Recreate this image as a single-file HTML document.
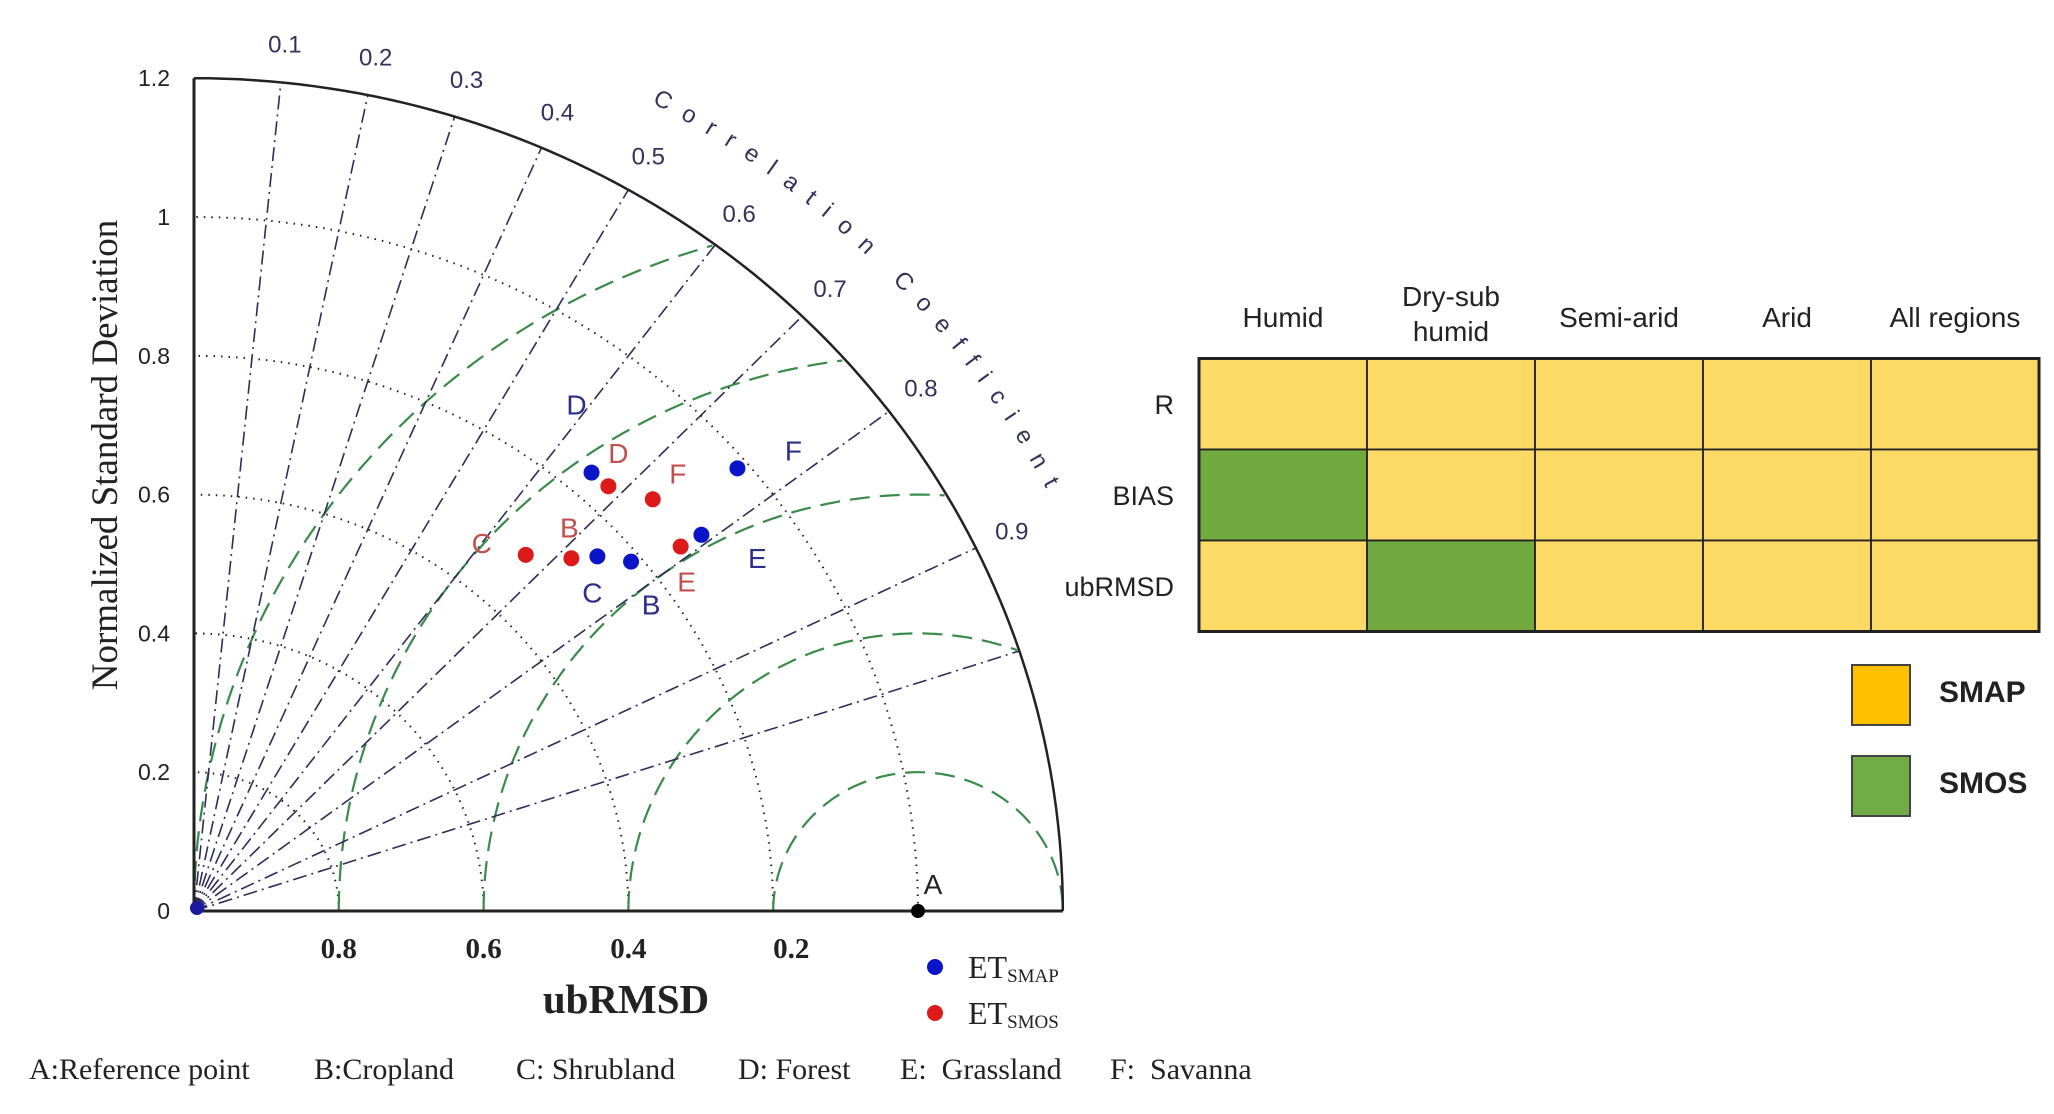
<!DOCTYPE html>
<html><head><meta charset="utf-8"><style>
html,body{margin:0;padding:0;background:#fff;}
svg{display:block;}
</style></head><body>
<svg id="fig" width="2054" height="1114" viewBox="0 0 2054 1114" xmlns="http://www.w3.org/2000/svg">
<g id="taylor"></g>
<g id="tbl"></g>
</svg>
<script>
// ---------- Taylor diagram data ----------
const sites = ["B","C","D","E","F"];
const smapStd = [0.786, 0.756, 0.837, 0.886, 0.985];
const smapR   = [0.768, 0.737, 0.656, 0.791, 0.762];
const smosStd = [0.728, 0.688, 0.838, 0.853, 0.868];
const smosR   = [0.716, 0.666, 0.683, 0.788, 0.730];
const yTicks = [0, 0.2, 0.4, 0.6, 0.8, 1, 1.2];
const corrTicks = [0.1,0.2,0.3,0.4,0.5,0.6,0.7,0.8,0.9];
const corrExtra = [0.95];
const stdArcs = [0.2,0.4,0.6,0.8,1.0];
const rmsArcs = [0.2,0.4,0.6,0.8,1.0];
const rmsLabels = ["0.8","0.6","0.4","0.2"];
const rmsLabelVals = [0.8,0.6,0.4,0.2];
// ---------- Table data ----------
const cols = ["Humid","Dry-sub|humid","Semi-arid","Arid","All regions"];
const rows = ["R","BIAS","ubRMSD"];
const best = [["SMAP","SMAP","SMAP","SMAP","SMAP"],["SMOS","SMAP","SMAP","SMAP","SMAP"],["SMAP","SMOS","SMAP","SMAP","SMAP"]];

const NS="http://www.w3.org/2000/svg";
const OX=194, OY=911, SX=724, SY=694, RMAX=1.2;
const X=x=>OX+SX*x, Y=y=>OY-SY*y;
function mk(tag, attrs, parent){const e=document.createElementNS(NS,tag);for(const k in attrs)e.setAttribute(k,attrs[k]);parent.appendChild(e);return e;}
const T=document.getElementById('taylor');
const serif='"Liberation Serif", serif', sans='"Liberation Sans", sans-serif';

stdArcs.forEach(s=>{
  let d='';for(let i=0;i<=90;i++){const a=i*Math.PI/180;d+=(i?'L':'M')+X(s*Math.cos(a)).toFixed(1)+','+Y(s*Math.sin(a)).toFixed(1);}
  const p=mk('path',{d:d,fill:'none',stroke:'#222','stroke-width':2,'stroke-dasharray':'1.5 6'},T);
  
  
});
rmsArcs.forEach(k=>{
  let d='',started=false;
  for(let i=0;i<=360;i++){const a=i*Math.PI/360;const x=1-k*Math.cos(a),y=k*Math.sin(a);
    if(Math.hypot(x,y)<=RMAX && x>=0){d+=(started?'L':'M')+X(x).toFixed(1)+','+Y(y).toFixed(1);started=true;} }
  const p=mk('path',{d:d,fill:'none',stroke:'#3a8a4a','stroke-width':2.2,'stroke-dasharray':'20 10'},T);
  
  
});
corrTicks.concat(corrExtra).forEach(r=>{
  const a=Math.acos(r);
  const l=mk('line',{x1:X(0),y1:Y(0),x2:X(RMAX*Math.cos(a)),y2:Y(RMAX*Math.sin(a)),stroke:'#2d2d5a','stroke-width':1.6,'stroke-dasharray':'14 5 2 5'},T);
  
  
});
corrTicks.forEach(r=>{
  const a=Math.acos(r),rr=1.255;
  const t=mk('text',{x:X(rr*Math.cos(a)),y:Y(rr*Math.sin(a))+8,'font-family':sans,'font-size':24,fill:'#33335a','text-anchor':'middle'},T);
  t.textContent=String(r);
  
  
});
{let d='';for(let i=0;i<=90;i++){const a=i*Math.PI/180;d+=(i?'L':'M')+X(RMAX*Math.cos(a)).toFixed(1)+','+Y(RMAX*Math.sin(a)).toFixed(1);}
 const p=mk('path',{d:d,fill:'none',stroke:'#222','stroke-width':2.5},T);
 }
{const a=mk('line',{x1:X(0),y1:Y(0),x2:X(0),y2:Y(RMAX),stroke:'#222','stroke-width':3},T);
 
 const b=mk('line',{x1:X(0),y1:Y(0),x2:X(RMAX),y2:Y(0),stroke:'#222','stroke-width':3},T);
 }
yTicks.forEach(v=>{
  const t=mk('text',{x:170,y:Y(v)+8,'font-family':sans,'font-size':23,fill:'#222','text-anchor':'end'},T);
  t.textContent=String(v);
  
  
});
rmsLabels.forEach((s,i)=>{
  const t=mk('text',{x:X(1-rmsLabelVals[i])+(i==3?18:0),y:958,'font-family':serif,'font-size':29,'font-weight':'bold',fill:'#222','text-anchor':'middle'},T);
  t.textContent=s;
  
  
});
{let d='';const a0=61.5,a1=27;for(let i=0;i<=40;i++){const a=(a0+(a1-a0)*i/40)*Math.PI/180;d+=(i?'L':'M')+X(1.325*Math.cos(a)).toFixed(1)+','+Y(1.325*Math.sin(a)).toFixed(1);}
 const p=mk('path',{id:'corrpath',d:d,fill:'none',stroke:'none'},T);
 
 const t=mk('text',{'font-family':sans,'font-size':24,fill:'#33335a'},T);
 
 const tp=mk('textPath',{href:'#corrpath',textLength:560,lengthAdjust:'spacing'},t);tp.textContent='Correlation Coefficient';}
{const t=mk('text',{x:0,y:0,transform:'translate(117,455) rotate(-90)','font-family':serif,'font-size':37,fill:'#222','text-anchor':'middle'},T);
 t.textContent='Normalized Standard Deviation';
 const u=mk('text',{x:626,y:1013,'font-family':serif,'font-size':41,'font-weight':'bold',fill:'#222','text-anchor':'middle'},T);
 u.textContent='ubRMSD';}
{const c=mk('circle',{cx:X(1),cy:Y(0),r:7,fill:'#000'},T);
 const t=mk('text',{x:933,y:894,'font-family':sans,'font-size':28,fill:'#222','text-anchor':'middle'},T);t.textContent='A';
 
 const o=mk('circle',{cx:X(0)+3,cy:Y(0)-3,r:7,fill:'#1a1aa0'},T);}
const smapOff={B:[20,43],C:[-5,36],D:[-15,-68],E:[56,23],F:[56,-18]};
const smosOff={B:[-2,-31],C:[-44,-12],D:[10,-33],E:[6,35],F:[25,-26]};
function pts(stds,rs,col,lcol,off,name){
  sites.forEach((s,i)=>{
    const a=Math.acos(rs[i]);const px=X(stds[i]*Math.cos(a)),py=Y(stds[i]*Math.sin(a));
    const c=mk('circle',{cx:px,cy:py,r:8,fill:col},T);
    
    
    const t=mk('text',{x:px+off[s][0],y:py+off[s][1]+10,'font-family':sans,'font-size':28,fill:lcol,'text-anchor':'middle'},T);
    t.textContent=s;
    
    
  });
}
pts(smapStd,smapR,'#0a14c8','#2d2d8a',smapOff,'smap');
pts(smosStd,smosR,'#dd1a1a','#c0504d',smosOff,'smos');
[['#0a14c8','SMAP',967],['#dd1a1a','SMOS',1013]].forEach(([c,n,y])=>{
  const m=mk('circle',{cx:935,cy:y,r:8,fill:c},T);
  const t=mk('text',{x:968,y:y+11,'font-family':serif,'font-size':32,fill:'#222'},T);
  
  t.textContent='ET';const s=mk('tspan',{'font-size':19,dy:4},t);s.textContent=n;
});
[['A:Reference point',29],['B:Cropland',314],['C: Shrubland',516],['D: Forest',738],['E:  Grassland',900],['F:  Savanna',1110]].forEach(([s,x])=>{
  const t=mk('text',{x:x,y:1079,'font-family':serif,'font-size':30,fill:'#222'},T);
  
  t.style.whiteSpace='pre';t.textContent=s;
});

const B=document.getElementById('tbl');
const TX=1199, TY=358.5, CW=168, RH=91;
const fillC={SMAP:'#fdd966',SMOS:'#72aa40'};
rows.forEach((r,i)=>{
  cols.forEach((c,j)=>{
    const rc=mk('rect',{x:TX+j*CW,y:TY+i*RH,width:CW,height:RH,fill:fillC[best[i][j]],stroke:'#222','stroke-width':1.8},B);
    
    
  });
  const t=mk('text',{x:1174,y:TY+i*RH+RH/2+10,'font-family':sans,'font-size':27,fill:'#222','text-anchor':'end'},B);
  t.textContent=r;
});
{const o=mk('rect',{x:TX,y:TY,width:CW*5,height:RH*3,fill:'none',stroke:'#222','stroke-width':3},B);
 }
cols.forEach((c,j)=>{
  const parts=c.split('|');const cx=TX+j*CW+CW/2;
  parts.forEach((p,k)=>{
    const y=parts.length==1?327:(306+k*35);
    const t=mk('text',{x:cx,y:y,'font-family':sans,'font-size':28,fill:'#222','text-anchor':'middle'},B);
    t.textContent=p;
  });
});
[['SMAP','#ffc000',665,691],['SMOS','#70ad47',756,782]].forEach(([n,c,y,ty])=>{
  const r=mk('rect',{x:1852,y:y,width:58,height:60,fill:c,stroke:'#444','stroke-width':2},B);
  
  const t=mk('text',{x:1939,y:ty+11,'font-family':sans,'font-size':30,'font-weight':'bold',fill:'#222'},B);
  t.textContent=n;
});
</script>
</body></html>
